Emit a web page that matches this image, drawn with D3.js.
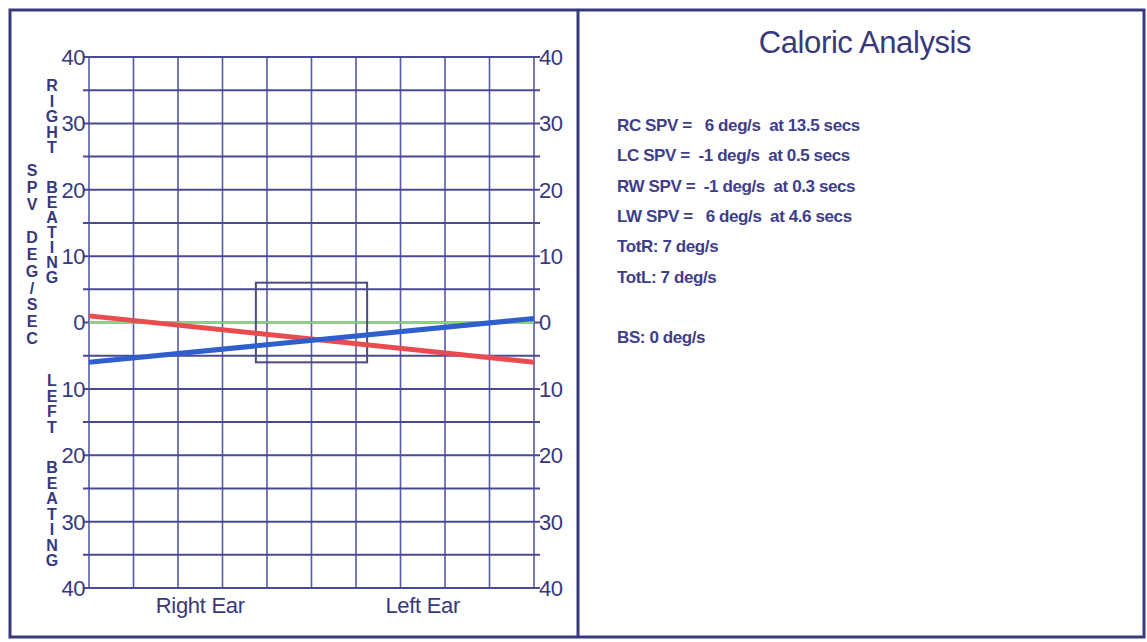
<!DOCTYPE html>
<html>
<head>
<meta charset="utf-8">
<script src="https://cdn.jsdelivr.net/npm/d3@7"></script>
<style>
  body { margin: 0; background: #fff; }
  svg { display: block; font-family: "Liberation Sans", Arial, sans-serif; }
</style>
</head>
<body>
<script>
// chart values
const yTicks = [40, 30, 20, 10, 0, -10, -20, -30, -40];
const gridY = d3.range(-40, 41, 5);
const gridX = d3.range(0, 11, 1);
const earLabels = ["Right Ear", "Left Ear"];
const earPos = [2.5, 7.5];
const coolSpv = [-6, 0.6];   // blue line, right ear -> left ear
const warmSpv = [1, -6];     // red line
const normBoxX = [3.75, 6.25];
const normBoxY = [6, -6];
const title = "Caloric Analysis";
const results = [
  "RC SPV =   6 deg/s  at 13.5 secs",
  "LC SPV =  -1 deg/s  at 0.5 secs",
  "RW SPV =  -1 deg/s  at 0.3 secs",
  "LW SPV =   6 deg/s  at 4.6 secs",
  "TotR: 7 deg/s",
  "TotL: 7 deg/s",
  "",
  "BS: 0 deg/s"
];
const spvLabel = "SPV DEG/SEC";
const rightBeat = ["RIGHT", "BEATING"];
const leftBeat = ["LEFT", "BEATING"];

const W = 1147, H = 642;
const navy = "#38387c";
const gridCol = "#4a4a94";

const svg = d3.select("body").append("svg")
  .attr("width", W)
  .attr("height", H);

// outer frame + divider
svg.append("rect")
  .attr("x", 10).attr("y", 10)
  .attr("width", 1134).attr("height", 627)
  .attr("fill", "none")
  .attr("stroke", navy)
  .attr("stroke-width", 3);
svg.append("line")
  .attr("x1", 578).attr("x2", 578)
  .attr("y1", 10).attr("y2", 637)
  .attr("stroke", navy)
  .attr("stroke-width", 3);

let xScale = d3.scaleLinear().domain([0, 10]).range([89, 534]);
let yScale = d3.scaleLinear().domain([-40, 40]).range([588, 57]);

const g = svg.append("g");

// vertical grid
g.selectAll(".vgrid")
  .data(gridX)
  .enter().append("line")
    .attr("class", "vgrid")
    .attr("x1", d => xScale(d)).attr("x2", d => xScale(d))
    .attr("y1", yScale(40)).attr("y2", yScale(-40))
    .attr("stroke", "#5858a8")
    .attr("stroke-width", 1.6);

// horizontal grid, sticking out a bit on both sides like ticks
g.selectAll(".hgrid")
  .data(gridY)
  .enter().append("line")
    .attr("class", "hgrid")
    .attr("x1", xScale(0) - 6).attr("x2", xScale(10) + 6)
    .attr("y1", d => yScale(d)).attr("y2", d => yScale(d))
    .attr("stroke", gridCol)
    .attr("stroke-width", 2);

// green baseline
g.append("line")
  .attr("x1", xScale(0)).attr("x2", xScale(10))
  .attr("y1", yScale(0)).attr("y2", yScale(0))
  .attr("stroke", "#86e070")
  .attr("stroke-width", 2);

// normal-range box
g.append("rect")
  .attr("x", xScale(normBoxX[0]))
  .attr("y", yScale(normBoxY[0]))
  .attr("width", xScale(normBoxX[1]) - xScale(normBoxX[0]))
  .attr("height", yScale(normBoxY[1]) - yScale(normBoxY[0]))
  .attr("fill", "none")
  .attr("stroke", "#4c4c80")
  .attr("stroke-width", 2);

// y tick labels on both sides (absolute values)
const tickFmt = d => Math.abs(d);
g.selectAll(".ylab-l")
  .data(yTicks)
  .enter().append("text")
    .attr("x", 85)
    .attr("y", d => yScale(d))
    .attr("dy", "0.36em")
    .attr("text-anchor", "end")
    .attr("font-size", 22)
    .attr("letter-spacing", -0.5)
    .attr("fill", navy)
    .text(tickFmt);
g.selectAll(".ylab-r")
  .data(yTicks)
  .enter().append("text")
    .attr("x", 539)
    .attr("y", d => yScale(d))
    .attr("dy", "0.36em")
    .attr("font-size", 22)
    .attr("letter-spacing", -0.5)
    .attr("fill", navy)
    .text(tickFmt);

// ear labels
g.selectAll(".ear")
  .data(earLabels)
  .enter().append("text")
    .attr("x", (d, i) => xScale(earPos[i]))
    .attr("y", 613)
    .attr("text-anchor", "middle")
    .attr("font-size", 22)
    .attr("letter-spacing", -0.3)
    .attr("fill", navy)
    .text(d => d);

// stacked vertical letters
function stack(str, x, y0, step) {
  str.split("").forEach((c, i) => {
    if (c === " ") return;
    svg.append("text")
      .attr("x", x).attr("y", y0 + i * step)
      .attr("text-anchor", "middle")
      .attr("font-size", 16)
      .attr("font-weight", "bold")
      .attr("fill", navy)
      .text(c);
  });
}
stack(spvLabel, 32, 176, 16.8);
stack(rightBeat[0], 52, 91, 15.5);
stack(rightBeat[1], 52, 193, 15);
stack(leftBeat[0], 52, 386, 15.5);
stack(leftBeat[1], 52, 473, 15.5);

// SPV lines
let line = d3.line()
  .x((d, i) => xScale(i * 10))
  .y(d => yScale(d));

g.append("path")
  .datum(warmSpv)
  .attr("d", line)
  .attr("fill", "none")
  .attr("stroke", "#ea4b4f")
  .attr("stroke-width", 5);
g.append("path")
  .datum(coolSpv)
  .attr("d", line)
  .attr("fill", "none")
  .attr("stroke", "#2f5fcc")
  .attr("stroke-width", 5);

// right panel
svg.append("text")
  .attr("x", 865).attr("y", 53)
  .attr("text-anchor", "middle")
  .attr("font-size", 31)
  .attr("letter-spacing", -0.4)
  .attr("fill", navy)
  .text(title);

svg.selectAll(".res")
  .data(results)
  .enter().append("text")
    .attr("x", 617)
    .attr("y", (d, i) => 131 + i * 30.3)
    .attr("font-size", 17)
    .attr("font-weight", "bold")
    .attr("letter-spacing", -0.4)
    .attr("fill", "#3e3e8a")
    .style("white-space", "pre")
    .text(d => d);
</script>
</body>
</html>
